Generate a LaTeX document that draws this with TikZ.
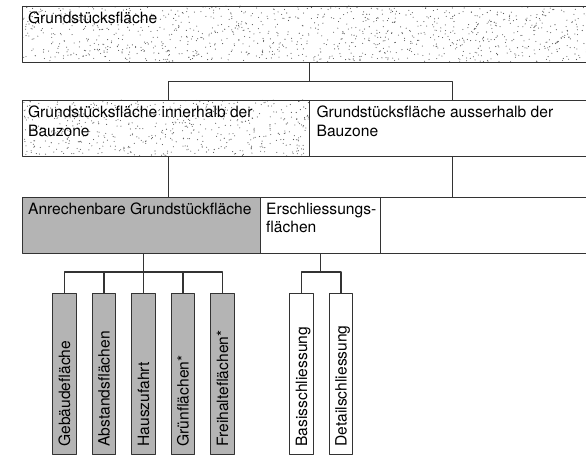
\documentclass[tikz,border=0pt]{standalone}
\usepackage{fontspec}
\setmainfont{TeX Gyre Heros}
\definecolor{linegray}{HTML}{333333}
\definecolor{fillgray}{HTML}{B4B4B4}
\definecolor{dotgray}{HTML}{555555}
\begin{document}
\begin{tikzpicture}[x=1pt, y=-1pt, font=\fontsize{15.6}{18.5}\selectfont, line join=round, line width=1.2pt,
	box/.style={draw=linegray, anchor=north west, inner sep=0pt, minimum height=56pt},
	lbl/.style={anchor=north west, align=left, inner xsep=5.5pt, inner ysep=5.5pt},
	leafg/.style={draw=linegray, fill=fillgray, anchor=north, inner sep=0pt, minimum width=23.5pt, minimum height=161pt},
	leafw/.style={leafg, fill=white},
	vlbl/.style={rotate=90, anchor=base west, inner sep=0pt}]
		\def\xr{595} \def\rise{21}
		\useasboundingbox (0,0) rectangle (586,462);
		\clip (0,0) rectangle (586,462);
		% stippled areas
		\pgfmathsetseed{4711}
		\begin{scope}
			\clip (22,6) rectangle (\xr,62);
			\foreach \i in {1,...,1100} \fill[dotgray] ({22+573*rnd},{6+56*rnd}) circle (0.55);
		\end{scope}
		\begin{scope}
			\clip (22,100) rectangle (309,156);
			\foreach \i in {1,...,550} \fill[dotgray] ({22+287*rnd},{100+56*rnd}) circle (0.55);
		\end{scope}
		% boxes
		\node[box, minimum width=573pt] (top) at (22,6) {};
		\node[box, minimum width=287pt] (l2) at (22,100) {};
		\node[box, minimum width=286pt] (r2) at (309,100) {};
		\node[box, fill=fillgray, minimum width=238pt] (g3) at (22,197) {};
		\node[box, minimum width=120pt] (e3) at (260,197) {};
		\node[box, minimum width=215pt] (c3) at (380,197) {};
		\node[lbl] (ttop) at (top.north west) {Grundstücksfläche};
		\node[lbl] (tl2) at (l2.north west) {Grundstücksfläche innerhalb der\\Bauzone};
		\node[lbl, inner xsep=7pt] (tr2) at (r2.north west) {Grundstücksfläche ausserhalb der\\Bauzone};
		\node[lbl] (tg3) at (g3.north west) {Anrechenbare Grundstückfläche};
		\node[lbl] (te3) at (e3.north west) {Erschliessungs-\\flächen};
		% leaves
		\foreach \x/\n/\t in {64.5/a1/Gebäudefläche, 104/a2/Abstandsflächen, 143.5/a3/Hauszufahrt, 183/a4/Grünflächen*, 222.5/a5/Freihalteflächen*}{
			\node[leafg] (\n) at (\x,293) {};
			\node[vlbl] (t\n) at ([xshift=5.5pt,yshift=8pt]\n.south) {\t};
		}
		\foreach \x/\n/\t in {301.5/b1/Basisschliessung, 341/b2/Detailschliessung}{
			\node[leafw] (\n) at (\x,293) {};
			\node[vlbl] (t\n) at ([xshift=5.5pt,yshift=8pt]\n.south) {\t};
		}
		% connectors
		\draw[linegray] (top.south) -- ++(0,18) coordinate (j1);
		\draw[linegray] ([xshift=2.5pt]l2.north) |- (j1) -| (r2.north);
		\draw[linegray] ([xshift=2.5pt]l2.south) -- ([xshift=2.5pt]l2.south |- g3.north);
		\draw[linegray] (r2.south) -- (r2.south |- c3.north);
		\draw[linegray] (a3.north) -- (a3.north |- g3.south);
		\draw[linegray] (a1.north) -- ++(0,-\rise) -| (a5.north);
		\draw[linegray] (a2.north) -- ++(0,-\rise);
		\draw[linegray] (a4.north) -- ++(0,-\rise);
		\draw[linegray] (b1.north) -- ++(0,-\rise) coordinate (j2) -| (b2.north);
		\draw[linegray] (e3.south) -- (e3.south |- j2);
		\end{tikzpicture}
\end{document}
